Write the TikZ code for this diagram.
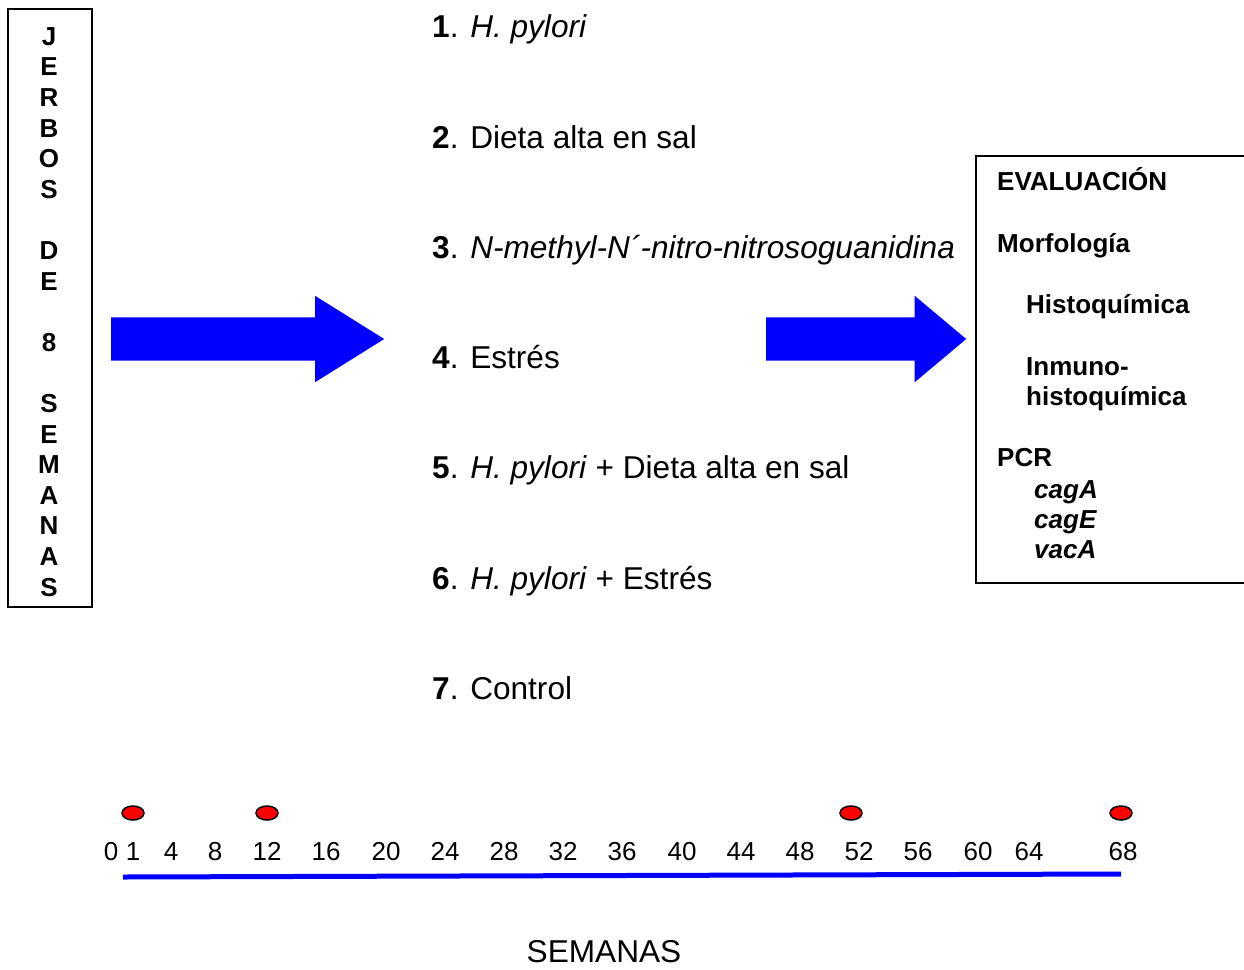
\documentclass[tikz,border=0pt]{standalone}
\usepackage{fontspec}
\setmainfont{Liberation Sans}
\usetikzlibrary{shapes.arrows,shapes.geometric,positioning}

\begin{document}
\begin{tikzpicture}[x=1pt,y=-1pt,
  every node/.style={inner sep=0pt},
  item/.style={anchor=base west,font=\fontsize{31.6}{38}\selectfont},
  evalt/.style={anchor=base west,font=\fontsize{26}{31}\selectfont\bfseries},
  letter/.style={anchor=base,font=\fontsize{26}{31}\selectfont\bfseries},
  week/.style={anchor=base,font=\fontsize{26}{31}\selectfont},
  bigarrow/.style={single arrow,fill=blue,draw=none,inner xsep=0pt,inner ysep=21.5pt,single arrow head extend=21.5pt,anchor=tail},
  dot/.style={ellipse,draw,fill=red,line width=1.5pt,minimum width=22,minimum height=14}]
  \useasboundingbox (0,0) rectangle (1244,969);

  % jerbos
  \node[draw,line width=1.5pt,minimum width=84,minimum height=598] (jerbos) at (50,308) {};
  \foreach \l [count=\i] in {J,E,R,B,O,S,,D,E,,8,,S,E,M,A,N,A,S}
    \node[letter] (l\i) at (49,{45.3+30.6*(\i-1)}) {\l};

  % flechas
  \node[bigarrow,minimum height=273,single arrow tip angle=64] (arrowL) at (111,339) {};
  \node[bigarrow,minimum height=200,single arrow tip angle=80] (arrowR) at (766,339) {};

  % grupos
  \node[item] (g1) at (432,37.5)  {\textbf{1}. \textit{H. pylori}};
  \node[item] (g2) at (432,148)   {\textbf{2}. Dieta alta en sal};
  \node[item] (g3) at (432,258.5) {\textbf{3}. \textit{N-methyl-N´-nitro-nitrosoguanidina}};
  \node[item] (g4) at (432,368.5) {\textbf{4}. Estrés};
  \node[item] (g5) at (432,478.5) {\textbf{5}. \textit{H. pylori} + Dieta alta en sal};
  \node[item] (g6) at (432,589.5) {\textbf{6}. \textit{H. pylori} + Estrés};
  \node[item] (g7) at (432,699.5) {\textbf{7}. Control};

  % evaluacion
  \node[draw,line width=1.5pt,minimum width=280,minimum height=427,anchor=north west] (eval) at (975,155) {};
  \node[evalt] (e1) at (997,190)  {EVALUACIÓN};
  \node[evalt] (e2) at (997,252)  {Morfología};
  \node[evalt] (e3) at (1026,313) {Histoquímica};
  \node[evalt] (e4) at (1026,375) {Inmuno-};
  \node[evalt] (e5) at (1026,405) {histoquímica};
  \node[evalt] (e6) at (997,466)  {PCR};
  \node[evalt] (e7) at (1034,498) {\textit{cagA}};
  \node[evalt] (e8) at (1034,528) {\textit{cagE}};
  \node[evalt] (e9) at (1034,558) {\textit{vacA}};

  % linea de tiempo
  \foreach \x/\n in {111/0,133/1,171/4,215/8,267/12,326/16,386/20,445/24,504/28,563/32,
                     622/36,682/40,741/44,800/48,859/52,918/56,978/60,1029/64,1123/68}
    \node[week] (w\n) at (\x,860) {\n};
  \foreach \x [count=\i] in {133,267,851,1121}
    \node[dot] (d\i) at (\x,813) {};
  \coordinate (t0) at (123,877);
  \coordinate (t1) at (1121,874);
  \draw[blue,line width=5pt] (t0) -- (t1);
  \node[item,anchor=base] (semanas) at (604,962) {SEMANAS};
\end{tikzpicture}
\end{document}
